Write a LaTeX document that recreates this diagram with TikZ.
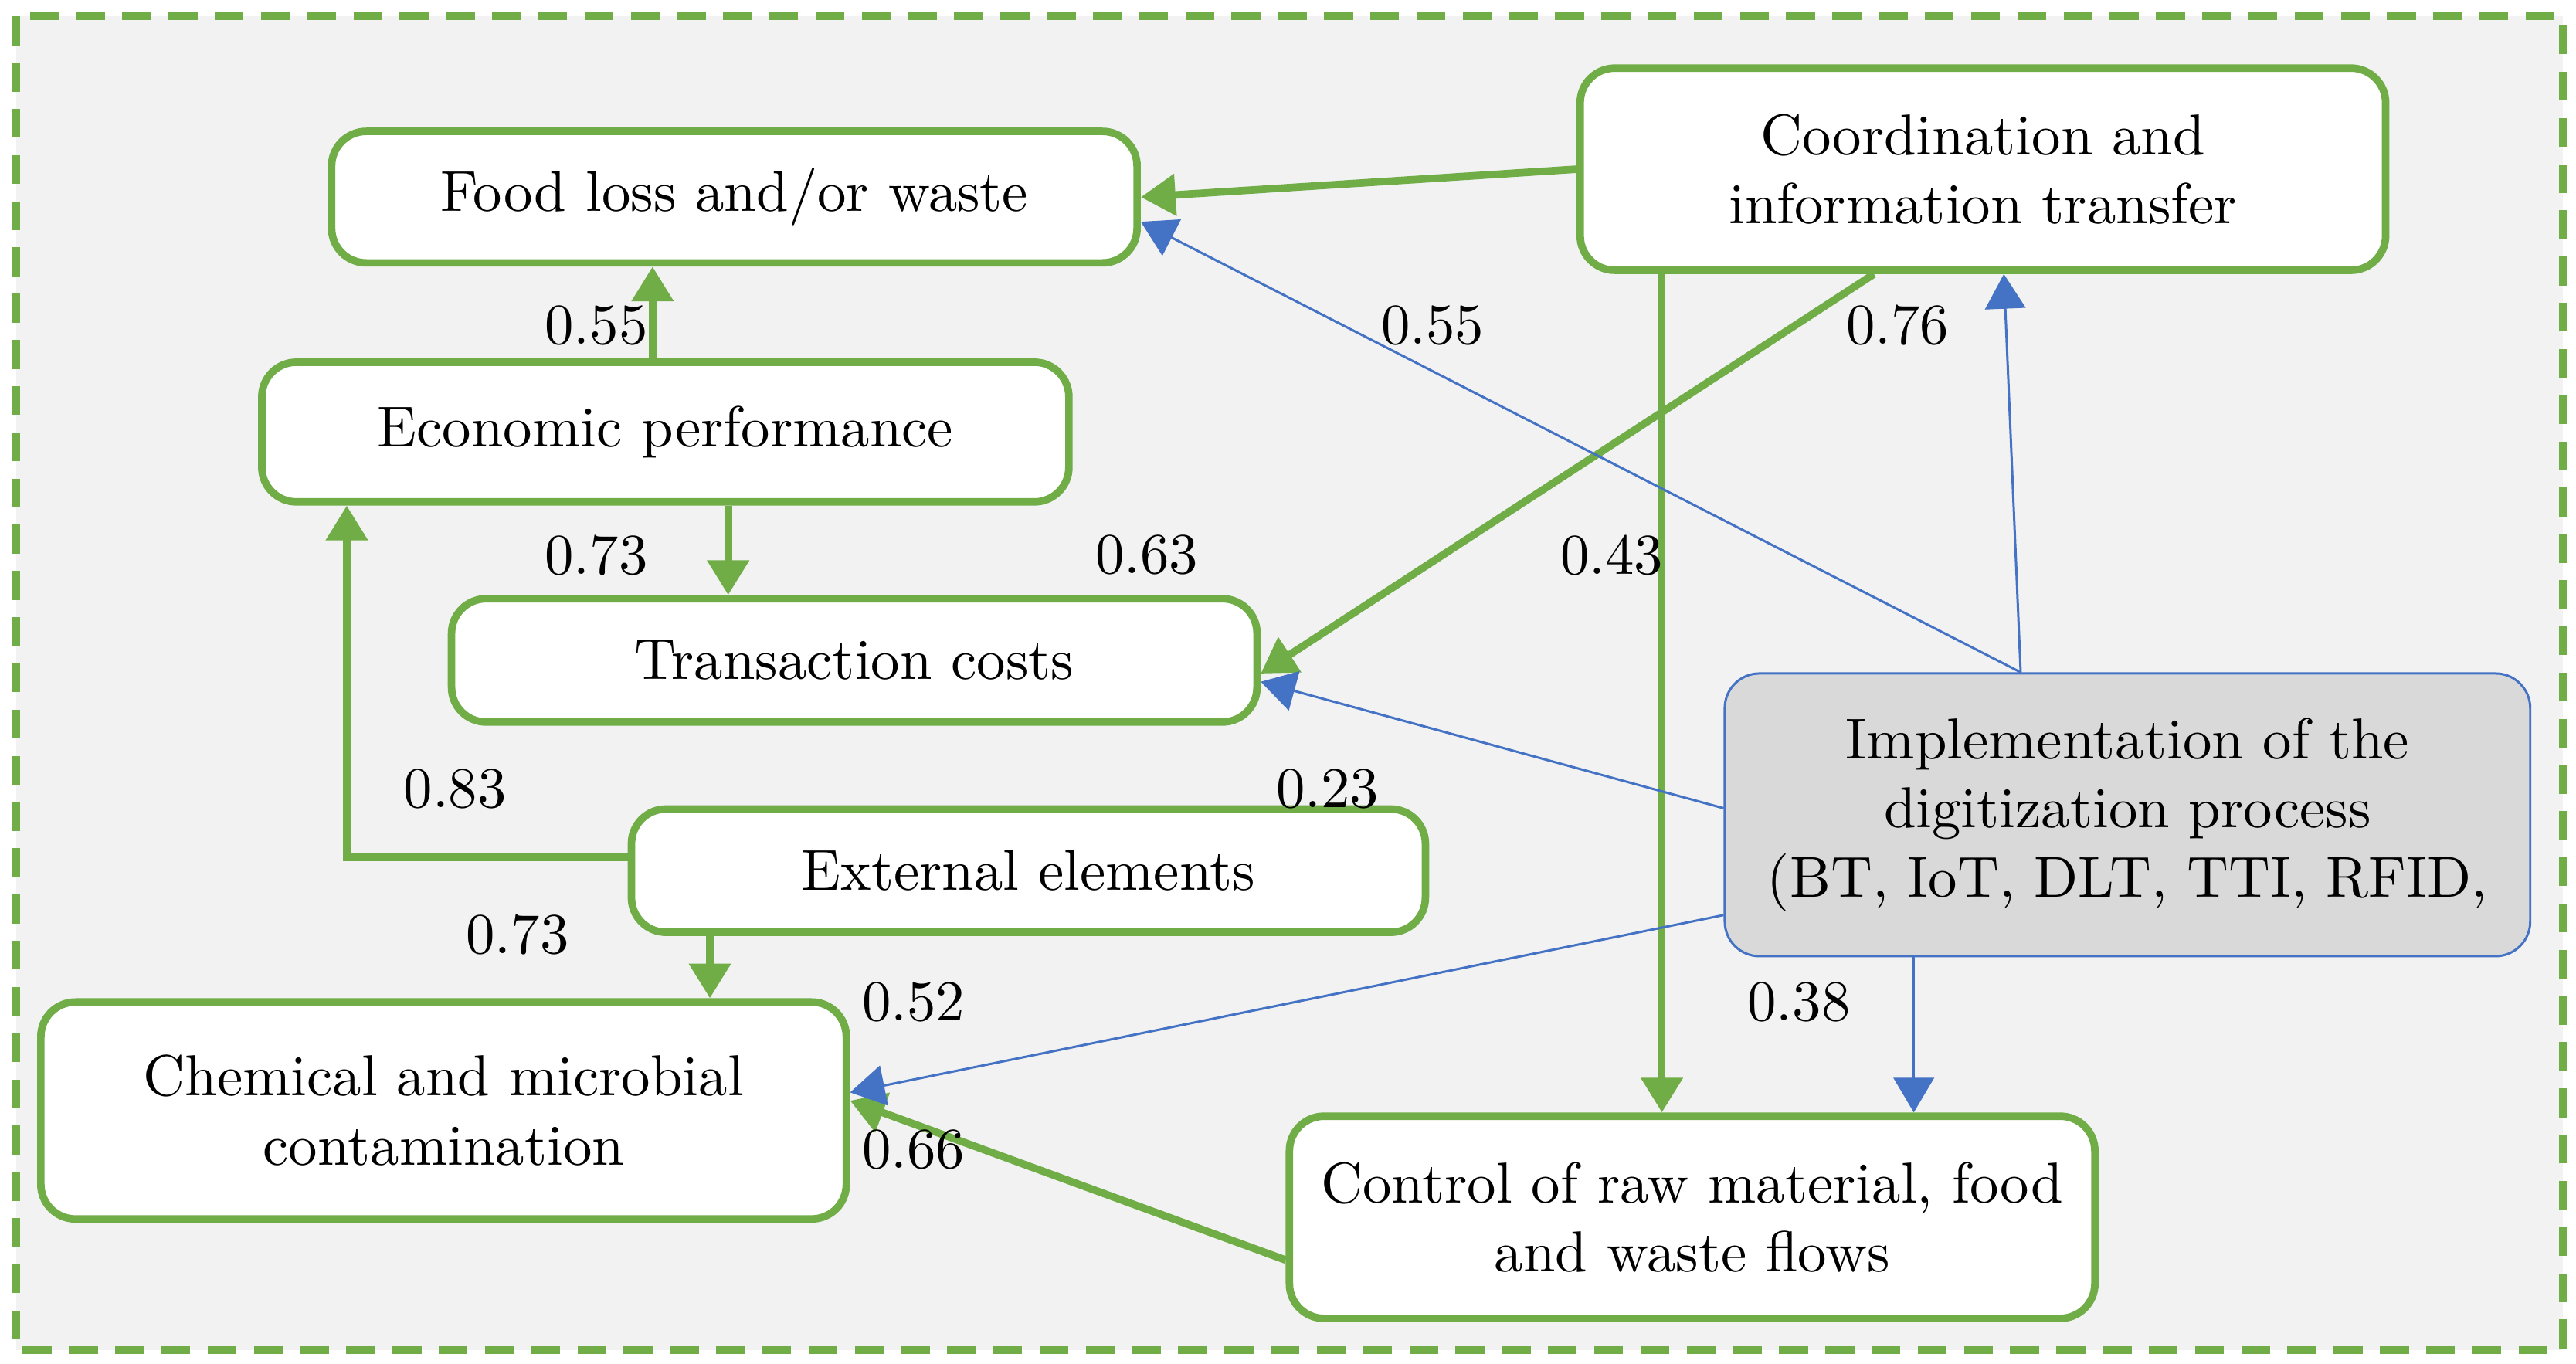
\documentclass[tikz,border=0pt]{standalone}
\usepackage{tikz}
\usetikzlibrary{positioning, arrows.meta}
\definecolor{grn}{HTML}{70AD47}
\definecolor{blu}{HTML}{4472C4}
\definecolor{gry}{HTML}{D9D9D9}
\definecolor{bgc}{HTML}{F2F2F2}
\tikzset{%
	box/.style = {draw = grn, line width = 1.3pt, rounded corners = 6pt, fill = white, align = center, minimum width = 4.9cm, font = \normalsize},
	gar/.style = {-{Triangle[length=6pt,width=7pt]}, draw = grn, line width = 1.3pt},
	bar/.style = {-{Triangle[length=6pt,width=7pt]}, draw = blu, fill = blu, thin},
	val/.style = {font = \normalsize}
}
\begin{document}
\begin{tikzpicture}[x=0.01cm, y=-0.01cm]
	\useasboundingbox (0,0) rectangle (1568,830);
	\fill[bgc] (10,10) rectangle (1560,822);
	\draw[grn, line width = 1.3pt, dash pattern = on 5pt off 3pt] (10,10) rectangle (1560,822);
	% boxes
	\node [box, minimum height = 0.8cm] (food) at (447,120) {Food loss and/or waste};
	\node [box, minimum height = 1.23cm] (coord) at (1207,103) {Coordination and\\information transfer};
	\node [box, minimum height = 0.85cm, minimum width = 4.91cm] (econ) at (405,263) {Economic performance};
	\node [box, minimum height = 0.75cm] (trans) at (520,402) {Transaction costs};
	\node [box, draw = blu, thin, fill = gry, minimum height = 1.72cm] (impl) at (1295,496) {Implementation of the\\digitization process\\(BT, IoT, DLT, TTI, RFID,};
	\node [box, minimum height = 0.75cm, minimum width = 4.83cm] (ext) at (626,530) {External elements};
	\node [box, minimum height = 1.32cm] (chem) at (270,676) {Chemical and microbial\\contamination};
	\node [box, minimum height = 1.23cm] (ctrl) at (1030,741) {Control of raw material, food\\and waste flows};
	% green links
	\draw [gar] (coord.west) -- (food.east);
	\draw [gar] ([xshift=2.4cm]econ.north west) -- ([xshift=2.4cm]econ.north west |- food.south);
	\draw [gar] ([xshift=2.86cm]econ.south west) -- ([xshift=2.86cm]econ.south west |- trans.north);
	\draw [gar] ([yshift=0.08cm]ext.west) -| ([xshift=0.54cm]econ.south west);
	\draw [gar] ([xshift=0.5cm]ext.south west) -- ([xshift=0.5cm]ext.south west |- chem.north);
	\draw [gar] ([xshift=1.81cm]coord.south west) -- ([yshift=-0.08cm]trans.east);
	\draw [gar] ([xshift=0.52cm]coord.south west) -- ([xshift=0.52cm]coord.south west |- ctrl.north);
	\draw [gar] ([yshift=-0.26cm]ctrl.west) -- ([yshift=0.06cm]chem.east);
	% blue links
	\coordinate (ip) at ([xshift=-0.65cm]impl.north);
	\draw [bar] (ip) -- ([yshift=-0.15cm]food.east);
	\draw [bar] (ip) -- ([xshift=2.6cm]coord.south west);
	\draw [bar] ([yshift=0.04cm]impl.west) -- ([yshift=-0.13cm]trans.east);
	\draw [bar] ([yshift=-0.61cm]impl.west) -- ([yshift=0.11cm]chem.east);
	\draw [bar] ([xshift=-1.3cm]impl.south) -- ([xshift=-1.3cm]impl.south |- ctrl.north);
	% path values
	\node [val] (v1) at (363,198) {0.55};
	\node [val] (v2) at (872,198) {0.55};
	\node [val] (v3) at (1155,198) {0.76};
	\node [val] (v4) at (363,338) {0.73};
	\node [val] (v5) at (698,338) {0.63};
	\node [val] (v6) at (981,338) {0.43};
	\node [val] (v7) at (277,480) {0.83};
	\node [val] (v8) at (808,480) {0.23};
	\node [val] (v9) at (315,569) {0.73};
	\node [val] (v10) at (556,610) {0.52};
	\node [val] (v11) at (1095,610) {0.38};
	\node [val] (v12) at (556,700) {0.66};
\end{tikzpicture}
\end{document}
